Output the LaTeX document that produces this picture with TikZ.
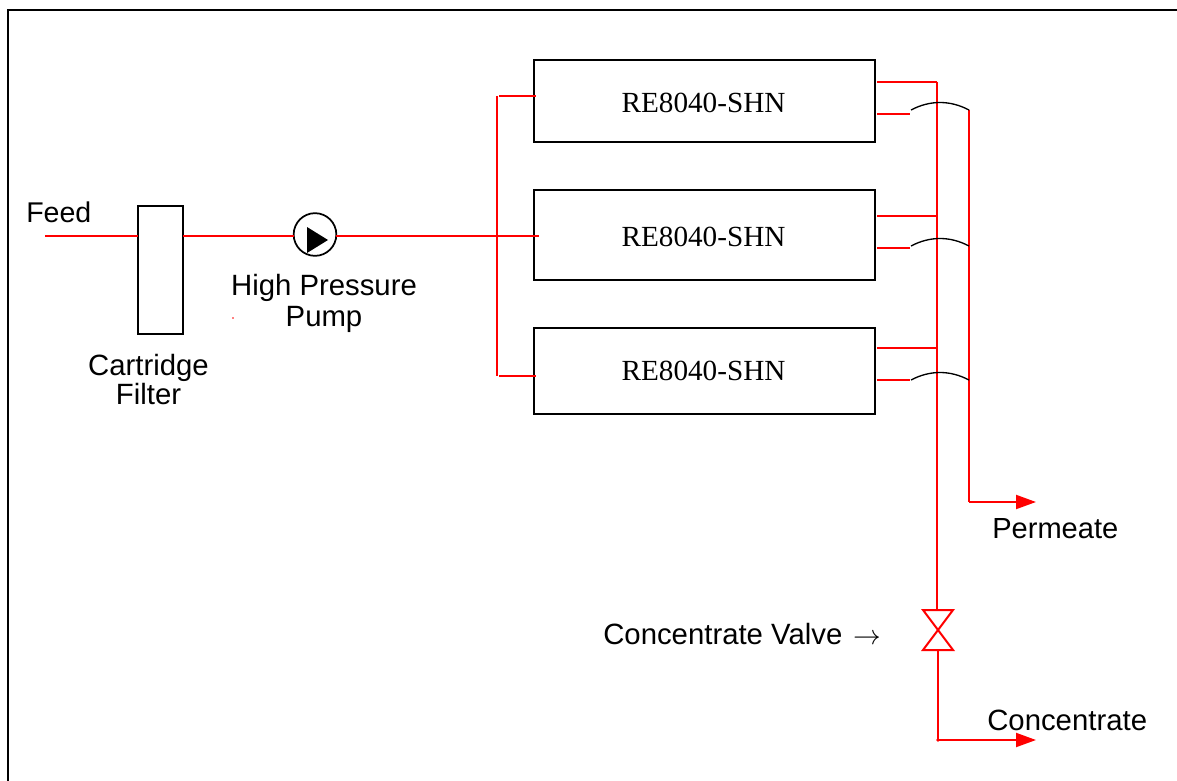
\documentclass[tikz,border=0pt]{standalone}
\usepackage{fontspec}
\setmainfont{Liberation Sans}
\newfontfamily\serifface{Liberation Serif}
\usetikzlibrary{arrows.meta}
\tikzset{
  px/.style={x=0.75pt,y=-0.75pt},
  black line/.style={draw=black,line width=1.3pt},
  pipe/.style={draw=red,line width=1.5pt},
  vessel/.style={black line,rectangle,inner sep=0pt,minimum width=255.75pt},
  vessel text/.style={font=\fontsize{21.9}{24}\serifface,inner sep=0pt,anchor=base},
  cartridge/.style={black line,rectangle,inner sep=0pt,minimum width=33.75pt,minimum height=96pt},
  pumpbody/.style={black line,circle,inner sep=0pt,minimum size=32pt},
  label/.style={font=\fontsize{22}{23.25}\selectfont,inner sep=0pt,align=center},
  flow/.style={pipe,-{Triangle[length=15pt,width=10.5pt,fill=red]}},
  arcline/.style={draw=black,line width=1pt},
}
\begin{document}
\begin{tikzpicture}[px]
\useasboundingbox (0,0) rectangle (1177,781);
\draw[black line] (8,781) -- (8,10) -- (1177,10);

% equipment
\node[cartridge] (filter) at (160.5,270) {};
\node[pumpbody] (pump) at (315,234.5) {};
\fill (307,227) -- (328,240) -- (307,253) -- cycle;
\node[vessel,minimum height=61.5pt] (m1) at (704.5,101) {};
\node[vessel,minimum height=67.5pt] (m2) at (704.5,235) {};
\node[vessel,minimum height=64.5pt] (m3) at (704.5,371) {};
\node[vessel text] (t1) at (703.5,113) {RE8040-SHN};
\node[vessel text] (t2) at (703.5,246) {RE8040-SHN};
\node[vessel text] (t3) at (703.5,380) {RE8040-SHN};

% labels
\node[label,anchor=base west,font=\fontsize{21.4}{23}\selectfont] (lfeed) at (26,222) {Feed};
\node[label,anchor=center] (lfilter) at (148.5,380) {Cartridge\\[-1.5pt]Filter};
\node[label,anchor=center] (lpump) at (324,303) {High Pressure\\Pump};
\node[label,anchor=base west,font=\fontsize{21.8}{23}\selectfont] (lperm) at (992,538) {Permeate};
\node[label,anchor=base west] (lconc) at (987,730) {Concentrate};
\node[label,anchor=base west] (lvalve) at (603,644) {Concentrate Valve\hspace{2pt} $\rightarrow$};

% feed line
\coordinate (feedstart) at (45,236);
\coordinate (filterin) at (138,236);
\coordinate (filterout) at (183,236);
\coordinate (pumpin) at (294,236);
\coordinate (pumpout) at (336,236);
\coordinate (m2in) at (539,236);
\draw[pipe] (feedstart) -- (filterin);
\draw[pipe] (filterout) -- (pumpin);
\draw[pipe] (pumpout) -- (m2in);

% inlet header
\coordinate (ht) at (497,96);
\coordinate (hb) at (497,376);
\coordinate (m1in) at (536,96);
\coordinate (m3in) at (536,376);
\draw[pipe] (ht) -- (hb);
\draw[pipe] (499,96) -- (m1in);
\draw[pipe] (499,376) -- (m3in);

% concentrate collector
\coordinate (ctop) at (937,82);
\coordinate (vtop) at (937,610);
\draw[pipe] (877,82) -- (ctop);
\draw[pipe] (ctop) -- (vtop);
\draw[pipe] (877,216) -- (937,216);
\draw[pipe] (877,348) -- (937,348);

% permeate stubs
\draw[pipe] (877,114) -- (910,114);
\draw[pipe] (877,248) -- (910,248);
\draw[pipe] (877,380) -- (910,380);

% permeate collector
\coordinate (ptop) at (969,110);
\coordinate (pcorner) at (969,502);
\coordinate (pend) at (1036,502);
\draw[pipe] (ptop) -- (pcorner);
\draw[flow] (pcorner) -- (pend);

% crossover arcs
\draw[arcline] (911,110) .. controls (930,100) and (950,100) .. (969,110);
\draw[arcline] (911,246) .. controls (930,236) and (950,236) .. (969,246);
\draw[arcline] (911,380) .. controls (930,370) and (950,370) .. (969,380);

% valve
\draw[pipe,line join=miter] (923,610) -- (953,610) -- (923,650) -- (953,650) -- cycle;
\coordinate (vbot) at (938,650);
\coordinate (ccorner) at (938,740);
\coordinate (cend) at (1036,740);
\draw[pipe] (vbot) -- (ccorner);
\draw[flow] (ccorner) -- (cend);
\fill[red] (ccorner) circle (1.8);

% stray dot
\fill[red] (233,318) circle (0.9);
\end{tikzpicture}
\end{document}
